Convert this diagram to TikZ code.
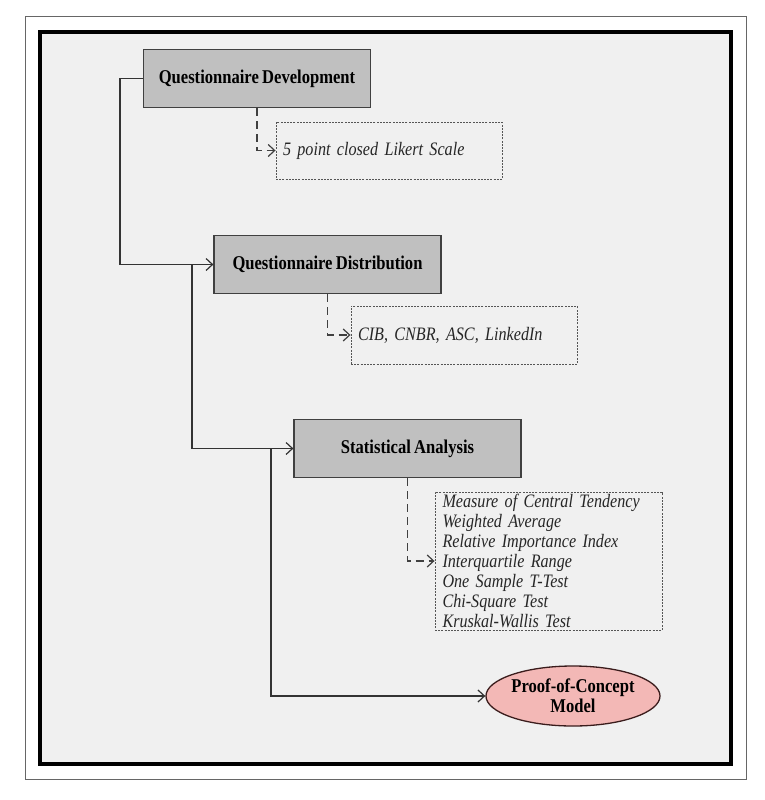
\documentclass[tikz,border=0pt]{standalone}
\usepackage{fontspec}
\setmainfont{Liberation Serif}[FakeStretch=0.85,
  BoldFeatures={WordSpace=0.8},
  ItalicFeatures={WordSpace=0.5}]
\usetikzlibrary{arrows.meta,shapes.geometric}
\definecolor{panel}{HTML}{F0F0F0}
\definecolor{stepfill}{HTML}{C0C0C0}
\definecolor{outcomefill}{HTML}{F3B8B6}
\definecolor{outcomeline}{HTML}{3A1C1C}
\definecolor{noteline}{HTML}{555555}
\tikzset{
  stepbox/.style={draw=black!75, line width=1.2pt, fill=stepfill,
    minimum width=227pt, minimum height=58pt, inner sep=0pt,
    font=\fontsize{19.5}{20}\selectfont\bfseries},
  notebox/.style={draw=noteline, line width=0.9pt, dash pattern=on 2pt off 1.2pt,
    inner xsep=7pt, inner ysep=0.5pt, align=left, text width=212pt,
    font=\fontsize{19}{20}\selectfont\itshape, text=black!85},
  outcome/.style={ellipse, draw=outcomeline, line width=1.3pt, fill=outcomefill,
    minimum width=153pt, minimum height=60pt, inner sep=0pt, align=center,
    font=\fontsize{19.5}{20}\selectfont\bfseries},
  flow/.style={draw=black!80, line width=1.3pt,
    -{Straight Barb[length=6.5pt,width=12pt,line width=1.2pt]}},
  noteflow/.style={draw=black!75, line width=1.3pt, dash pattern=on 8pt off 5pt,
    -{Straight Barb[length=6.5pt,width=12pt,line width=1.2pt]}},
}
\begin{document}
\begin{tikzpicture}[x=1pt,y=-1pt]
  % page area and frames
  \useasboundingbox (0,0) rectangle (765,800);
  \fill[white] (0,0) rectangle (765,800);
  \draw[black!60, line width=1pt] (25,17) rectangle (746,779);
  \draw[black, line width=3.5pt, fill=panel] (40,32) rectangle (731,764);

  % process steps
  \node[stepbox] (dev)  at (257,78.5)  {Questionnaire Development};
  \node[stepbox] (dist) at (327.5,264.5) {Questionnaire Distribution};
  \node[stepbox] (stat) at (407.5,448.5) {Statistical Analysis};
  \node[outcome] (poc)  at (573,696) {Proof-of-Concept\\Model};

  % details for each step
  \node[notebox, minimum height=57pt] (likert) at (389,150.5) {5 point closed Likert Scale};
  \node[notebox, minimum height=58pt] (chan)   at (464,335)   {CIB, CNBR, ASC, LinkedIn};
  \node[notebox, text width=212pt, inner xsep=7.5pt, minimum height=138pt] (tests) at (548.5,561)
    {Measure of Central Tendency\\Weighted Average\\Relative Importance Index\\Interquartile Range\\One Sample T-Test\\Chi-Square Test\\Kruskal-Wallis Test};

  % main flow
  \coordinate (j1) at (192,264.5);
  \coordinate (j2) at (271,448.5);
  \draw[flow] (dev.west) -- ++(-23,0) |- (dist.west);
  \draw[flow] (j1) |- (stat.west);
  \draw[flow] (j2) |- (poc.west);

  % links to details
  \draw[noteflow] (dev.south) |- (likert.west);
  \draw[noteflow] (dist.south) |- (chan.west);
  \draw[noteflow] (stat.south) |- (tests.west);
\end{tikzpicture}
\end{document}
